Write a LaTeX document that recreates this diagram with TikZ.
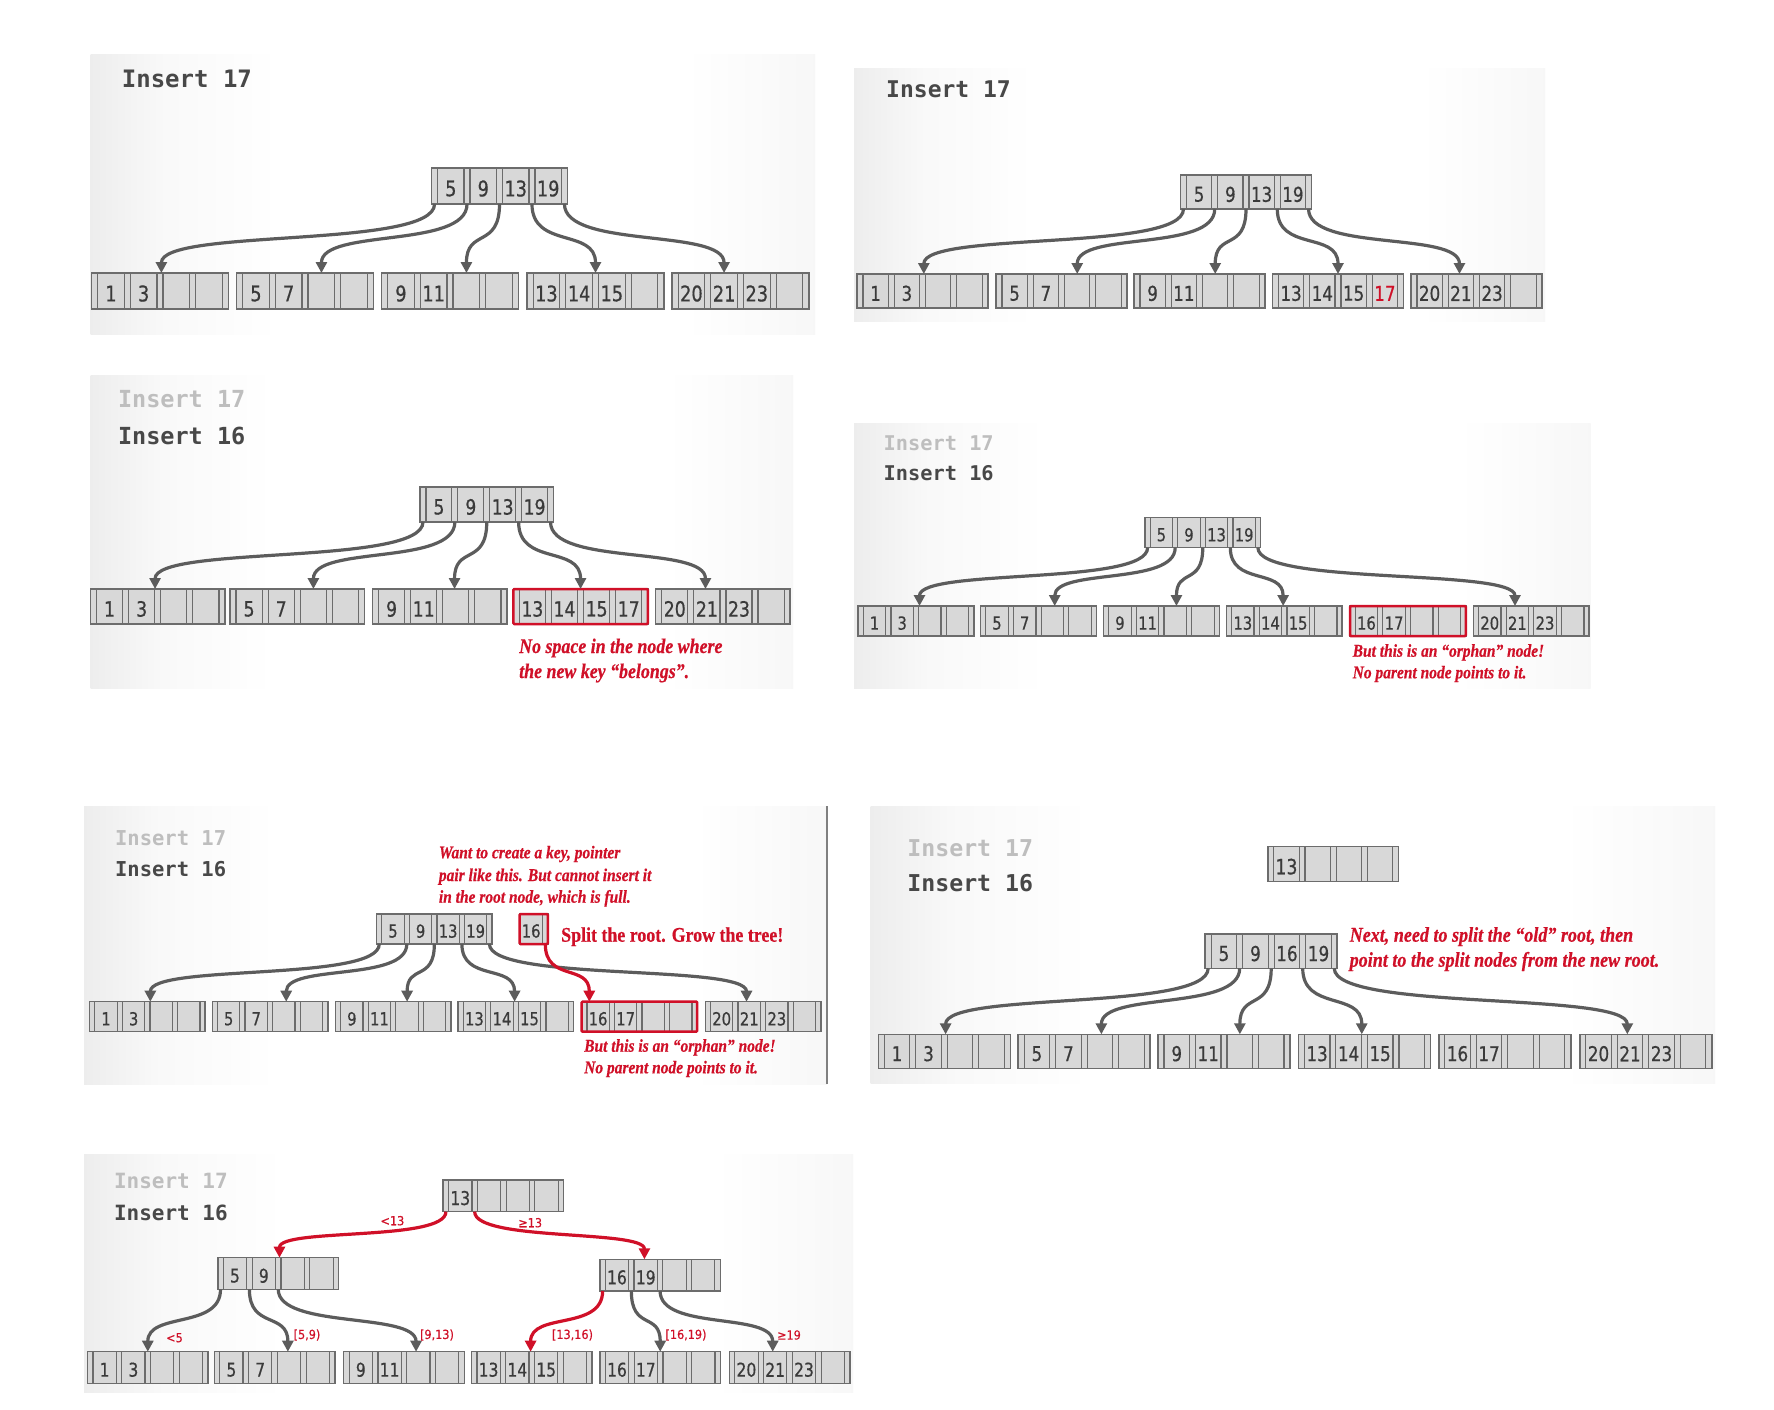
\documentclass[tikz,border=0pt]{standalone}
\usepackage{fontspec}
\usetikzlibrary{arrows.meta,calc}
\newfontfamily\monof{DejaVu Sans Mono}
\newfontfamily\digf{DejaVu Sans}[FakeStretch=0.82,FakeBold=0.6]
\newfontfamily\redf{Liberation Serif}[FakeStretch=0.86,FakeBold=0.5]
\newfontfamily\labf{DejaVu Sans}[FakeStretch=0.9,FakeBold=0.4]
\definecolor{bred}{RGB}{208,16,40}
\definecolor{lgray}{RGB}{108,108,108}
\definecolor{agray}{RGB}{92,92,92}
\definecolor{cfill}{RGB}{216,216,216}
\definecolor{dtext}{RGB}{58,58,58}
\definecolor{ttext}{RGB}{72,72,72}
\definecolor{ftext}{RGB}{190,190,190}
\pgfdeclarehorizontalshading{pbg}{100bp}{color(0bp)=(black!7); color(25bp)=(black!7); color(30bp)=(black!2.5); color(38bp)=(white); color(66bp)=(white); color(75bp)=(black!3); color(100bp)=(black!3)}
\tikzset{
  bn/.style={draw=lgray, fill=cfill, line width=1.5pt, inner sep=0pt, outer sep=0pt, rectangle},
  cl/.style={draw=lgray, line width=1.2pt},
  kt/.style={inner sep=0pt, text=dtext},
  conn/.style={draw=agray, line width=3.2pt, -{Triangle[length=11pt,width=11pt]}},
  rconn/.style={draw=bred},
  redbox/.style={draw=bred, line width=2.5pt, rounded corners=1pt},
  ttl/.style={anchor=base west, inner sep=0pt, text=ttext},
  fttl/.style={anchor=base west, inner sep=0pt, text=ftext},
  rtxt/.style={anchor=base west, inner sep=0pt, text=bred},
  lab/.style={inner sep=0pt, text=bred, font=\labf\fontsize{12.5}{12.5}\selectfont},
  panel/.style={shading=pbg},
}
\newcommand\tfont[1]{\monof\bfseries\fontsize{#1}{#1}\selectfont}
\newcommand\rfont[1]{\redf\bfseries\itshape\fontsize{#1}{#1}\selectfont}
\newcommand\BN[9][]{%
\begin{scope}[shift={(#3)}]
\pgfmathsetmacro\bW{#4}%
\pgfmathsetmacro\bH{#5}%
\pgfmathsetmacro\bS{0.045*#4}%
\pgfmathsetmacro\bP{(#4-\bS)/4}%
\pgfmathsetmacro\bF{0.6*#5}%
\node[bn,minimum width=\bW pt,minimum height=\bH pt,anchor=north west,#1] (#2) at (0,0) {};
\foreach \k in {1,2,3,4} {\draw[cl] (\k*\bP,0) -- (\k*\bP,\bH);}
\foreach \k in {0,1,2,3} {\draw[cl] ({\k*\bP+\bS},0) -- ({\k*\bP+\bS},\bH);}
\node[kt,font=\digf\fontsize{\bF}{\bF}\selectfont] at ({\bS+(\bP-\bS)/2},{0.57*\bH}) {#6};
\node[kt,font=\digf\fontsize{\bF}{\bF}\selectfont] at ({\bP+\bS+(\bP-\bS)/2},{0.57*\bH}) {#7};
\node[kt,font=\digf\fontsize{\bF}{\bF}\selectfont] at ({2*\bP+\bS+(\bP-\bS)/2},{0.57*\bH}) {#8};
\node[kt,font=\digf\fontsize{\bF}{\bF}\selectfont] at ({3*\bP+\bS+(\bP-\bS)/2},{0.57*\bH}) {#9};
\foreach \k in {0,...,4} {\coordinate (#2-s\k) at ({\k*\bP+\bS/2},\bH);}
\end{scope}}
\newcommand\tgt[3]{\coordinate (#1) at ($(#2.north west)!#3!(#2.north east)$);}
\newcommand\conn[4][]{\draw[conn,#1] (#2) .. controls ($(#2)+(0,#4)$) and ($(#3)+(0,-#4)$) .. (#3);}
\begin{document}
\begin{tikzpicture}[x=1pt,y=-1pt]
\useasboundingbox (0,0) rectangle (1774,1410);
\fill[white] (0,0) rectangle (1774,1410);
% ---------- backgrounds ----------
\shade[panel] (90.5,55) rectangle (815,334);
\shade[panel] (854,69) rectangle (1545,321);
\shade[panel] (90.5,375) rectangle (793,688);
\shade[panel] (854,423) rectangle (1590.5,688);
\shade[panel] (84,806) rectangle (827,1084);
\draw[black!50, line width=1.2pt] (827,806) -- (827,1084);
\shade[panel] (870.5,806) rectangle (1715,1083.5);
\shade[panel] (84,1154) rectangle (853,1392.5);

% ---------- Panel 1 ----------
\node[ttl,font=\tfont{24}] (p1t) at (121.7,87.7) {Insert 17};
\BN{r1}{431.5,168}{136}{36}{5}{9}{13}{19}
\BN{a1}{91.5,273}{137}{36}{1}{3}{}{}
\BN{a2}{236.5,273}{137}{36}{5}{7}{}{}
\BN{a3}{381.5,273}{137}{36}{9}{11}{}{}
\BN{a4}{527,273}{137}{36}{13}{14}{15}{}
\BN{a5}{672,273}{137}{36}{20}{21}{23}{}
\foreach \j/\i/\f in {0/1/.51,1/2/.62,2/3/.62,3/4/.5,4/5/.38} {\tgt{ta\i}{a\i}{\f}\conn{r1-s\j}{ta\i}{45}}

% ---------- Panel 2 ----------
\node[ttl,font=\tfont{23}] (p2t) at (886,97.5) {Insert 17};
\BN{r2}{1180.5,175}{131}{34}{5}{9}{13}{19}
\BN{b1}{857,274}{131}{34}{1}{3}{}{}
\BN{b2}{996,274}{131}{34}{5}{7}{}{}
\BN{b3}{1134,274}{131}{34}{9}{11}{}{}
\BN{b4}{1272.5,274}{131}{34}{13}{14}{15}{\textcolor{bred}{17}}
\BN{b5}{1411,274}{131}{34}{20}{21}{23}{}
\foreach \j/\i/\f in {0/1/.51,1/2/.62,2/3/.62,3/4/.5,4/5/.37} {\tgt{tb\i}{b\i}{\f}\conn{r2-s\j}{tb\i}{43}}

% ---------- Panel 3 ----------
\node[fttl,font=\tfont{23.5}] (p3f) at (117.8,407.3) {Insert 17};
\node[ttl,font=\tfont{23.5}] (p3t) at (117.8,444) {Insert 16};
\BN{r3}{420,487}{133.5}{35}{5}{9}{13}{19}
\BN{c1}{90.5,589}{134.5}{35}{1}{3}{}{}
\BN{c2}{230,589}{134.5}{35}{5}{7}{}{}
\BN{c3}{372.5,589}{134.5}{35}{9}{11}{}{}
\BN{c4}{513.3,589}{134.5}{35}{13}{14}{15}{17}
\BN{c5}{655.7,589}{134.5}{35}{20}{21}{23}{}
\draw[redbox] (c4.north west) rectangle (c4.south east);
\foreach \j/\i/\f in {0/1/.48,1/2/.62,2/3/.61,3/4/.5,4/5/.37} {\tgt{tc\i}{c\i}{\f}\conn{r3-s\j}{tc\i}{44}}
\node[rtxt,font=\rfont{20.8}] (p3r1) at (519,653) {No space in the node where};
\node[rtxt,font=\rfont{20.8}] (p3r2) at (519,678) {the new key “belongs”.};

% ---------- Panel 4 ----------
\node[fttl,font=\tfont{20.3}] (p4f) at (883.5,450) {Insert 17};
\node[ttl,font=\tfont{20.3}] (p4t) at (883.5,480.7) {Insert 16};
\BN{r4}{1145,517.7}{115.5}{30}{5}{9}{13}{19}
\BN{d1}{858.1,606}{115.8}{30}{1}{3}{}{}
\BN{d2}{980.6,606}{115.8}{30}{5}{7}{}{}
\BN{d3}{1103.5,606}{115.8}{30}{9}{11}{}{}
\BN{d4}{1226.4,606}{115.8}{30}{13}{14}{15}{}
\BN{d5}{1350,606}{115.8}{30}{16}{17}{}{}
\BN{d6}{1473.3,606}{115.8}{30}{20}{21}{23}{}
\draw[redbox] (d5.north west) rectangle (d5.south east);
\foreach \j/\i/\f in {0/1/.53,1/2/.64,2/3/.63,3/4/.49,4/6/.36} {\tgt{td\i}{d\i}{\f}\conn{r4-s\j}{td\i}{38}}
\node[rtxt,font=\rfont{18}] (p4r1) at (1352.5,656.7) {But this is an “orphan” node!};
\node[rtxt,font=\rfont{18}] (p4r2) at (1352.5,678.3) {No parent node points to it.};

% ---------- Panel 5 ----------
\node[fttl,font=\tfont{20.5}] (p5f) at (114.9,845) {Insert 17};
\node[ttl,font=\tfont{20.5}] (p5t) at (114.9,876.7) {Insert 16};
\BN{r5}{376.7,914}{115.3}{30}{5}{9}{13}{19}
\node[bn,minimum width=28.2pt,minimum height=30pt,anchor=north west] (n16) at (519.6,914) {};
\draw[cl] ($(n16.north east)+(-5,0)$) -- ($(n16.south east)+(-5,0)$);
\node[kt,font=\digf\fontsize{18}{18}\selectfont] (n16k) at ($(n16.west)!0.41!(n16.east)+(0,2)$) {16};
\coordinate (n16-s) at ($(n16.south east)+(-2.5,0)$);
\draw[redbox] (n16.north west) rectangle (n16.south east);
\BN{e1}{89.7,1001.7}{115.5}{30}{1}{3}{}{}
\BN{e2}{212.3,1001.7}{115.5}{30}{5}{7}{}{}
\BN{e3}{335.5,1001.7}{115.5}{30}{9}{11}{}{}
\BN{e4}{458,1001.7}{115.5}{30}{13}{14}{15}{}
\BN{e5}{581.7,1001.7}{115.5}{30}{16}{17}{}{}
\BN{e6}{705.3,1001.7}{115.5}{30}{20}{21}{23}{}
\draw[redbox] (e5.north west) rectangle (e5.south east);
\foreach \j/\i/\f in {0/1/.525,1/2/.64,2/3/.62,3/4/.49,4/6/.357} {\tgt{te\i}{e\i}{\f}\conn{r5-s\j}{te\i}{38}}
\tgt{te5}{e5}{.066}
\conn[rconn]{n16-s}{te5}{38}
\node[rtxt,font=\rfont{18}] (p5a1) at (438.7,858.3) {Want to create a key, pointer};
\node[rtxt,font=\rfont{18}] (p5a2) at (438.7,881) {pair like this. But cannot insert it};
\node[rtxt,font=\rfont{18}] (p5a3) at (438.7,902.7) {in the root node, which is full.};
\node[rtxt,font=\redf\bfseries\fontsize{20.8}{20.8}\selectfont] (p5s) at (561,941.7) {Split the root. Grow the tree!};
\node[rtxt,font=\rfont{18}] (p5b1) at (584,1051.7) {But this is an “orphan” node!};
\node[rtxt,font=\rfont{18}] (p5b2) at (584,1073.3) {No parent node points to it.};

% ---------- Panel 6 ----------
\node[fttl,font=\tfont{23.2}] (p6f) at (907.2,856.7) {Insert 17};
\node[ttl,font=\tfont{23.2}] (p6t) at (907.2,891.7) {Insert 16};
\BN{g0}{1268,846.7}{130.4}{35}{13}{}{}{}
\BN{r6}{1205.2,934}{132}{34.3}{5}{9}{16}{19}
\BN{f1}{878.3,1034.3}{132}{34}{1}{3}{}{}
\BN{f2}{1018.2,1034.3}{132}{34}{5}{7}{}{}
\BN{f3}{1158,1034.3}{132}{34}{9}{11}{}{}
\BN{f4}{1298.4,1034.3}{132}{34}{13}{14}{15}{}
\BN{f5}{1438.8,1034.3}{132}{34}{16}{17}{}{}
\BN{f6}{1579.8,1034.3}{132}{34}{20}{21}{23}{}
\foreach \j/\i/\f in {0/1/.51,1/2/.63,2/3/.62,3/4/.48,4/6/.36} {\tgt{tf\i}{f\i}{\f}\conn{r6-s\j}{tf\i}{43}}
\node[rtxt,font=\rfont{21}] (p6r1) at (1349.5,941.7) {Next, need to split the “old” root, then};
\node[rtxt,font=\rfont{21}] (p6r2) at (1349.5,966.7) {point to the split nodes from the new root.};

% ---------- Panel 7 ----------
\node[fttl,font=\tfont{21}] (p7f) at (113.8,1188.3) {Insert 17};
\node[ttl,font=\tfont{21}] (p7t) at (113.8,1220.7) {Insert 16};
\BN{h0}{443.2,1180}{120.4}{31.7}{13}{}{}{}
\BN{hl}{217.8,1257.7}{120.9}{31.6}{5}{9}{}{}
\BN{hr}{599.9,1259.3}{120.4}{31.7}{16}{19}{}{}
\BN{i1}{87.5,1351.7}{120.6}{31.6}{1}{3}{}{}
\BN{i2}{214.3,1351.7}{120.6}{31.6}{5}{7}{}{}
\BN{i3}{343.7,1351.7}{120.6}{31.6}{9}{11}{}{}
\BN{i4}{471.5,1351.7}{120.6}{31.6}{13}{14}{15}{}
\BN{i5}{599.9,1351.7}{120.6}{31.6}{16}{17}{}{}
\BN{i6}{729.3,1351.7}{120.6}{31.6}{20}{21}{23}{}
\tgt{thl}{hl}{.51}\conn[rconn]{h0-s0}{thl}{30}
\tgt{thr}{hr}{.37}\conn[rconn]{h0-s1}{thr}{30}
\tgt{ti1}{i1}{.5}\conn{hl-s0}{ti1}{40}
\tgt{ti2}{i2}{.61}\conn{hl-s1}{ti2}{40}
\tgt{ti3}{i3}{.6}\conn{hl-s2}{ti3}{40}
\tgt{ti4}{i4}{.49}\conn[rconn]{hr-s0}{ti4}{40}
\tgt{ti5}{i5}{.5}\conn{hr-s1}{ti5}{40}
\tgt{ti6}{i6}{.36}\conn{hr-s2}{ti6}{40}
\node[lab] (l13a) at (392.4,1220.7) {<13};
\node[lab] (l13b) at (530.2,1222.7) {≥13};
\node[lab] (l5) at (174.5,1337.7) {<5};
\node[lab] (l59) at (307,1335) {[5,9)};
\node[lab] (l913) at (437,1335) {[9,13)};
\node[lab] (l1316) at (572.5,1335) {[13,16)};
\node[lab] (l1619) at (686,1335) {[16,19)};
\node[lab] (l19) at (789,1335) {≥19};
\end{tikzpicture}
\end{document}
